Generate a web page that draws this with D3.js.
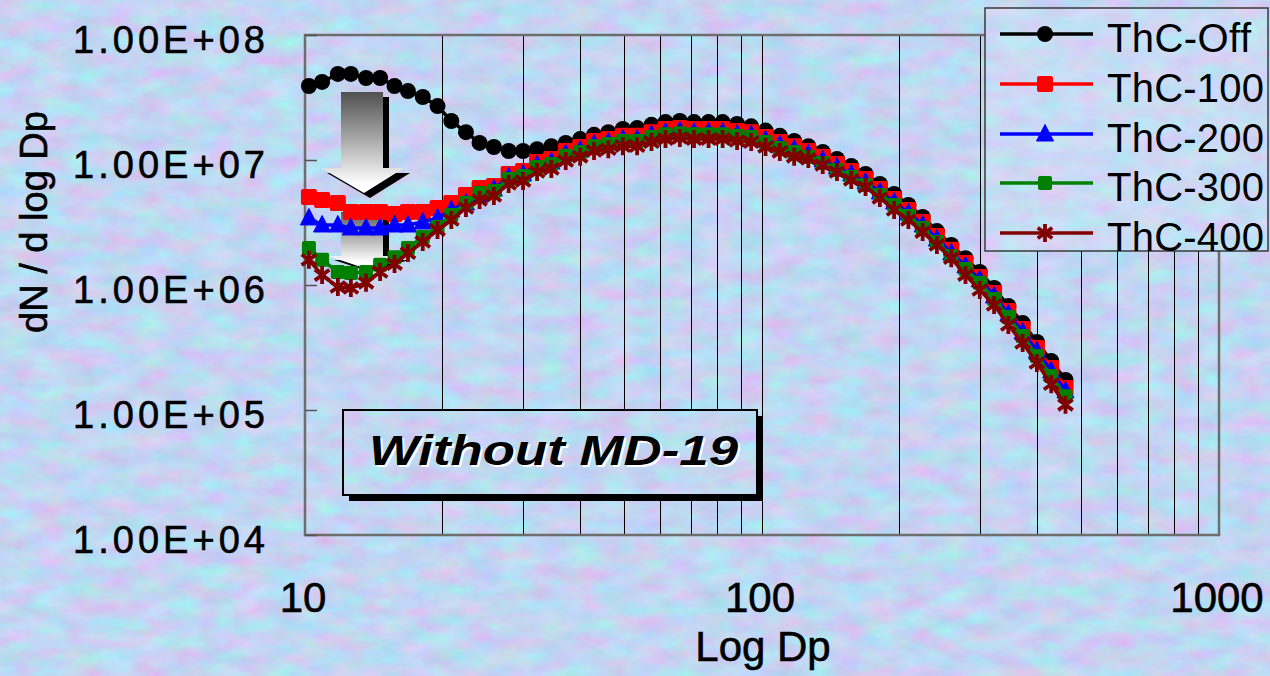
<!DOCTYPE html>
<html><head><meta charset="utf-8">
<script src="https://cdn.jsdelivr.net/npm/d3@7"></script>
<style>
html,body{margin:0;padding:0;background:#c6d2f2;overflow:hidden;}
svg{display:block;font-family:"Liberation Sans",Arial,sans-serif;}
</style></head><body>
<svg id="chart" width="1270" height="676"></svg>
<script>
// ---------------- data ----------------
const diameters = [10.2, 10.9, 11.8, 12.6, 13.6, 14.6, 15.7, 16.8, 18.1, 19.5,
  20.9, 22.5, 24.1, 25.9, 27.9, 30.0, 32.2, 34.6, 37.2, 40.0,
  42.9, 46.1, 49.6, 53.3, 57.3, 61.5, 66.1, 71.0, 76.4, 82.0,
  88.2, 94.7, 101.8, 109.4, 117.6, 126.3, 135.8, 145.9, 156.8, 168.5,
  181.1, 194.6, 209.1, 224.7, 241.4, 259.5, 278.8, 299.6, 322.0, 346.0,
  371.8, 399.5, 429.4, 461.4];

const seriesNames = ["ThC-Off", "ThC-100", "ThC-200", "ThC-300", "ThC-400"];

const thcOff = [3.91e7, 4.21e7, 4.88e7, 4.88e7, 4.53e7, 4.53e7, 3.91e7, 3.56e7, 3.19e7, 2.70e7,
  2.05e7, 1.67e7, 1.37e7, 1.27e7, 1.18e7, 1.18e7, 1.22e7, 1.29e7, 1.37e7, 1.47e7,
  1.59e7, 1.67e7, 1.77e7, 1.80e7, 1.91e7, 2.01e7, 2.05e7, 2.01e7, 2.01e7, 2.01e7,
  1.94e7, 1.86e7, 1.72e7, 1.56e7, 1.42e7, 1.29e7, 1.16e7, 1.02e7, 8.95e6, 7.73e6,
  6.43e6, 5.35e6, 4.37e6, 3.50e6, 2.70e6, 2.09e6, 1.64e6, 1.27e6, 9.46e5, 6.79e5,
  4.97e5, 3.50e5, 2.47e5, 1.74e5];

const thc100 = [5.06e6, 4.79e6, 4.53e6, 3.84e6, 3.84e6, 3.84e6, 3.70e6, 3.84e6, 3.84e6, 4.13e6,
  4.53e6, 5.25e6, 5.97e6, 6.19e6, 7.73e6, 8.17e6, 9.64e6, 1.02e7, 1.18e7, 1.27e7,
  1.42e7, 1.47e7, 1.56e7, 1.56e7, 1.67e7, 1.77e7, 1.80e7, 1.77e7, 1.77e7, 1.77e7,
  1.71e7, 1.67e7, 1.53e7, 1.39e7, 1.29e7, 1.18e7, 1.06e7, 9.29e6, 8.17e6, 7.05e6,
  5.86e6, 4.88e6, 3.98e6, 3.19e6, 2.47e6, 1.91e6, 1.50e6, 1.16e6, 8.63e5, 6.19e5,
  4.45e5, 3.13e5, 2.17e5, 1.50e5];

const thc200 = [3.44e6, 3.02e6, 3.02e6, 2.86e6, 2.86e6, 2.86e6, 3.02e6, 3.02e6, 3.19e6, 3.44e6,
  3.98e6, 4.53e6, 5.25e6, 5.86e6, 7.31e6, 7.73e6, 9.12e6, 9.64e6, 1.12e7, 1.20e7,
  1.34e7, 1.39e7, 1.47e7, 1.47e7, 1.59e7, 1.67e7, 1.71e7, 1.67e7, 1.67e7, 1.67e7,
  1.61e7, 1.59e7, 1.45e7, 1.32e7, 1.22e7, 1.12e7, 1.00e7, 8.79e6, 7.73e6, 6.67e6,
  5.55e6, 4.61e6, 3.77e6, 3.02e6, 2.33e6, 1.80e6, 1.42e6, 1.10e6, 8.17e5, 5.86e5,
  4.21e5, 2.96e5, 2.05e5, 1.42e5];

const thc300 = [1.98e6, 1.59e6, 1.27e6, 1.25e6, 1.27e6, 1.45e6, 1.67e6, 1.98e6, 2.42e6, 2.91e6,
  3.63e6, 4.53e6, 5.45e6, 5.65e6, 7.05e6, 7.45e6, 8.79e6, 9.29e6, 1.08e7, 1.16e7,
  1.29e7, 1.34e7, 1.42e7, 1.42e7, 1.53e7, 1.61e7, 1.64e7, 1.61e7, 1.61e7, 1.61e7,
  1.56e7, 1.53e7, 1.39e7, 1.25e7, 1.16e7, 1.06e7, 9.46e6, 8.32e6, 7.31e6, 6.31e6,
  5.25e6, 4.37e6, 3.56e6, 2.86e6, 2.21e6, 1.71e6, 1.34e6, 1.04e6, 7.73e5, 5.55e5,
  3.91e5, 2.70e5, 1.87e5, 1.29e5];

const thc400 = [1.59e6, 1.20e6, 9.64e5, 9.46e5, 1.04e6, 1.27e6, 1.47e6, 1.80e6, 2.21e6, 2.75e6,
  3.31e6, 4.13e6, 4.79e6, 5.15e6, 6.43e6, 6.79e6, 8.02e6, 8.47e6, 9.82e6, 1.06e7,
  1.18e7, 1.22e7, 1.29e7, 1.29e7, 1.39e7, 1.47e7, 1.50e7, 1.47e7, 1.47e7, 1.47e7,
  1.42e7, 1.39e7, 1.27e7, 1.16e7, 1.06e7, 1.02e7, 9.12e6, 8.02e6, 6.92e6, 6.08e6,
  4.97e6, 3.98e6, 3.31e6, 2.65e6, 2.09e6, 1.64e6, 1.20e6, 9.12e5, 6.92e5, 4.79e5,
  3.44e5, 2.38e5, 1.61e5, 1.10e5];

const yTickValues = [1e4, 1e5, 1e6, 1e7, 1e8];
const yTickLabels = ["1.00E+04", "1.00E+05", "1.00E+06", "1.00E+07", "1.00E+08"];
const xTickValues = [10, 100, 1000];
const xTickLabels = ["10", "100", "1000"];
const gridValues = [20, 30, 40, 50, 60, 70, 80, 90, 100, 200, 300, 400, 500, 600, 700, 800, 900];
const xTitle = "Log Dp";
const yTitle = "dN / d log Dp";
const boxLabel = "Without MD-19";

// ---------------- setup ----------------
const svg = d3.select("#chart");
const W = 1270, H = 676;
const plot = {left: 305, top: 35, right: 1219, bottom: 535};

const x = d3.scaleLog().domain([10, 1000]).range([plot.left, plot.right]);
const y = d3.scaleLog().domain([1e4, 1e8]).range([plot.bottom, plot.top]);

const defs = svg.append("defs");
const filt = defs.append("filter").attr("id", "tex")
  .attr("filterUnits", "userSpaceOnUse").attr("x", 0).attr("y", 0)
  .attr("width", W).attr("height", H)
  .attr("color-interpolation-filters", "sRGB");
filt.append("feTurbulence").attr("type", "fractalNoise")
  .attr("baseFrequency", "0.03 0.06").attr("numOctaves", 3).attr("seed", 11);
filt.append("feColorMatrix").attr("type", "matrix")
  .attr("values", "0.32 0 0 0 0.6  -0.2 0.16 0 0 0.86  0 0 0.12 0 0.89  0 0 0 0 1");

const g1 = defs.append("linearGradient").attr("id", "arrowGrad1")
  .attr("gradientUnits", "userSpaceOnUse").attr("x1", 0).attr("y1", 92).attr("x2", 0).attr("y2", 185);
g1.append("stop").attr("offset", 0).attr("stop-color", "#505050");
g1.append("stop").attr("offset", 1).attr("stop-color", "#ffffff");
const g2 = defs.append("linearGradient").attr("id", "arrowGrad2")
  .attr("gradientUnits", "userSpaceOnUse").attr("x1", 0).attr("y1", 210).attr("x2", 0).attr("y2", 262);
g2.append("stop").attr("offset", 0).attr("stop-color", "#555555");
g2.append("stop").attr("offset", 1).attr("stop-color", "#ffffff");

// textured background
const texRect = defs.append("g").attr("id", "texLayer");
texRect.append("rect").attr("width", W).attr("height", H).attr("fill", "#c6d2f2").attr("filter", "url(#tex)");
svg.append("use").attr("href", "#texLayer");

// vertical grid lines
svg.append("g").selectAll("line").data(gridValues).join("line")
  .attr("x1", d => x(d)).attr("x2", d => x(d))
  .attr("y1", plot.top).attr("y2", plot.bottom)
  .attr("stroke", "#000").attr("stroke-width", 1).attr("shape-rendering", "crispEdges");

// plot frame
svg.append("rect").attr("x", plot.left).attr("y", plot.top)
  .attr("width", plot.right - plot.left).attr("height", plot.bottom - plot.top)
  .attr("fill", "none").attr("stroke", "#6e6e6e").attr("stroke-width", 2.5);

// y axis (ticks inward)
const yAxis = d3.axisLeft(y).tickValues(yTickValues)
  .tickFormat((d, i) => yTickLabels[i]).tickSizeInner(-12).tickSizeOuter(0).tickPadding(40);
const yAxisG = svg.append("g").attr("transform", `translate(${plot.left},0)`).call(yAxis);
yAxisG.select(".domain").remove();
yAxisG.selectAll(".tick line").attr("stroke", "#555").attr("stroke-width", 1.5);
yAxisG.selectAll(".tick text")
  .attr("fill", "#000").attr("stroke", "#000").attr("stroke-width", 0.6)
  .attr("font-size", 38).attr("font-family", "'Liberation Sans',Arial,sans-serif")
  .attr("dy", null).attr("y", 17.5)
  .attr("textLength", 192).attr("lengthAdjust", "spacing");

// x axis labels
const xAxis = d3.axisBottom(x).tickValues(xTickValues)
  .tickFormat((d, i) => xTickLabels[i]).tickSize(0).tickPadding(0);
const xAxisG = svg.append("g").attr("transform", `translate(-2.5,0)`).call(xAxis);
xAxisG.select(".domain").remove();
xAxisG.selectAll(".tick text")
  .attr("fill", "#000").attr("stroke", "#000").attr("stroke-width", 0.6)
  .attr("font-size", 42).attr("font-family", "'Liberation Sans',Arial,sans-serif")
  .attr("dy", null).attr("y", 612);

// axis titles
svg.append("text").attr("x", (plot.left + plot.right) / 2 + 1).attr("y", 661)
  .attr("text-anchor", "middle").attr("font-size", 42).attr("fill", "#000")
  .attr("stroke", "#000").attr("stroke-width", 0.6).text(xTitle);
svg.append("text").attr("transform", "translate(47,222) rotate(-90)")
  .attr("text-anchor", "middle").attr("font-size", 38).attr("fill", "#000")
  .attr("stroke", "#000").attr("stroke-width", 0.6).text(yTitle);

// arrows (decoration)
function arrowPath(sl, sr, top, neck, hl, hr, tipX, tipY) {
  return `M${sl},${top}L${sr},${top}L${sr},${neck}L${hr},${neck}L${tipX},${tipY}L${hl},${neck}L${sl},${neck}Z`;
}
const a1 = arrowPath(341, 383, 92, 168, 321, 404, 364, 193);
const a2 = arrowPath(341, 383, 212, 256, 328, 403, 364, 268);
svg.append("path").attr("d", a1).attr("fill", "#000").attr("transform", "translate(6,5)");
svg.append("path").attr("d", a1).attr("fill", "url(#arrowGrad1)");
svg.append("path").attr("d", a2).attr("fill", "#000").attr("transform", "translate(6,4)");
svg.append("path").attr("d", a2).attr("fill", "url(#arrowGrad2)");

// label box
const box = {x: 343, y: 410, w: 414, h: 85};
svg.append("rect").attr("x", box.x + 6).attr("y", box.y + 6).attr("width", box.w).attr("height", box.h).attr("fill", "#000");
const boxClip = defs.append("clipPath").attr("id", "boxClip");
boxClip.append("rect").attr("x", box.x).attr("y", box.y).attr("width", box.w).attr("height", box.h);
svg.append("use").attr("href", "#texLayer").attr("clip-path", "url(#boxClip)");
svg.append("rect").attr("x", box.x).attr("y", box.y).attr("width", box.w).attr("height", box.h)
  .attr("fill", "none").attr("stroke", "#000").attr("stroke-width", 2);
svg.append("text").attr("x", 371).attr("y", 467).attr("font-size", 42).attr("font-weight", "bold")
  .attr("font-style", "italic").attr("fill", "#fff").attr("textLength", 369).attr("lengthAdjust", "spacingAndGlyphs").text(boxLabel);
svg.append("text").attr("x", 369).attr("y", 465).attr("font-size", 42).attr("font-weight", "bold")
  .attr("font-style", "italic").attr("fill", "#000").attr("textLength", 369).attr("lengthAdjust", "spacingAndGlyphs").text(boxLabel);

// ---------------- series ----------------
const seriesValues = [thcOff, thc100, thc200, thc300, thc400];
const colors = ["#000000", "#ff0000", "#0000ff", "#008000", "#800000"];
const shapes = ["circle", "square", "triangle", "square2", "star"];

function drawMarker(sel, shape, color) {
  if (shape === "circle") {
    sel.append("circle").attr("r", 8).attr("fill", color);
  } else if (shape === "square") {
    sel.append("rect").attr("x", -8).attr("y", -8).attr("width", 16).attr("height", 16).attr("rx", 2).attr("fill", color);
  } else if (shape === "square2") {
    sel.append("rect").attr("x", -7).attr("y", -7).attr("width", 14).attr("height", 14).attr("rx", 2).attr("fill", color);
  } else if (shape === "triangle") {
    sel.append("path").attr("d", "M0,-9.5L8.5,7L-8.5,7Z").attr("fill", color).attr("stroke", color).attr("stroke-width", 1).attr("stroke-linejoin", "round");
  } else {
    const r = 9, a = 36 * Math.PI / 180;
    const dx = r * Math.cos(a), dy = r * Math.sin(a);
    sel.append("path").attr("d", `M0,${-r}L0,${r}M${-dx},${-dy}L${dx},${dy}M${-dx},${dy}L${dx},${-dy}`)
      .attr("stroke", color).attr("stroke-width", 3.8).attr("fill", "none").attr("stroke-linecap", "butt");
  }
}

const line = d3.line().x(d => x(d.dp)).y(d => y(d.v));
seriesValues.forEach((vals, si) => {
  const pts = diameters.map((dp, i) => ({dp, v: vals[i]}));
  const g = svg.append("g");
  g.append("path").attr("d", line(pts)).attr("fill", "none")
    .attr("stroke", colors[si]).attr("stroke-width", 3.5).attr("stroke-linejoin", "round");
  g.selectAll("g.m").data(pts).join("g").attr("class", "m")
    .attr("transform", d => `translate(${x(d.dp)},${y(d.v)})`)
    .each(function () { drawMarker(d3.select(this), shapes[si], colors[si]); });
});

// ---------------- legend ----------------
const lg = {x: 985, y: 8, w: 283, h: 243};
const lgClip = defs.append("clipPath").attr("id", "lgClip");
lgClip.append("rect").attr("x", lg.x).attr("y", lg.y).attr("width", lg.w).attr("height", lg.h);
svg.append("use").attr("href", "#texLayer").attr("clip-path", "url(#lgClip)");
svg.append("rect").attr("x", lg.x).attr("y", lg.y).attr("width", lg.w).attr("height", lg.h)
  .attr("fill", "rgba(235,240,255,0.2)").attr("stroke", "#3a3a3a").attr("stroke-width", 1.5);
const rowY = [34, 84, 134, 183, 233];
const legendWidths = [144, 157, 157, 157, 157];
seriesNames.forEach((name, si) => {
  const gy = rowY[si];
  const g = svg.append("g");
  g.append("line").attr("x1", 1000).attr("x2", 1093).attr("y1", gy).attr("y2", gy)
    .attr("stroke", colors[si]).attr("stroke-width", 3.5);
  drawMarker(g.append("g").attr("transform", `translate(1045,${gy})`), shapes[si], colors[si]);
  g.append("text").attr("x", 1107).attr("y", gy + 18).attr("font-size", 40).attr("fill", "#000")
    .attr("textLength", legendWidths[si]).attr("lengthAdjust", "spacing").text(name);
});
</script>
</body></html>
